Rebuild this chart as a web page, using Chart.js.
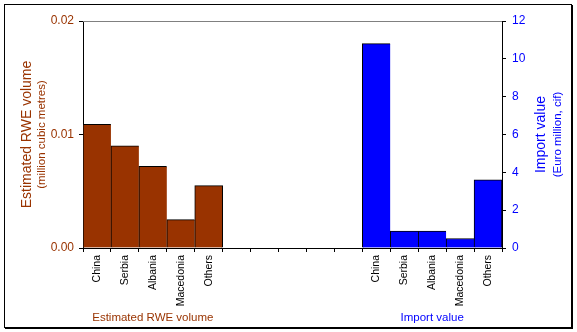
<!DOCTYPE html>
<html lang="en">
<head>
  <meta charset="UTF-8">
  <title>RWE volume and import value</title>
  <script src="https://cdn.jsdelivr.net/npm/chart.js"></script>
  <style>
    body {
      margin: 0;
      background: #fff;
    }
    canvas {
      display: block;
    }
  </style>
</head>
<body>
  <canvas id="myChart" width="577" height="332"></canvas>
  <script>
    // data
    const countries = ['China', 'Serbia', 'Albania', 'Macedonia', 'Others'];
    const rweVolume = [0.0109, 0.0090, 0.0072, 0.0025, 0.0055];   // million cubic metres
    const importValue = [10.8, 0.9, 0.9, 0.5, 3.6];               // Euro million, cif
    const gapSlots = 5;

    const brown = '#993300';
    const blue = '#0000ff';
    const font = '"Liberation Sans", Arial, sans-serif';

    const blanks = Array(gapSlots).fill('');
    const labels = countries.concat(blanks, countries);
    const emptyRun = Array(countries.length + gapSlots).fill(null);

    // thin shared borders between neighbouring bars
    function barBorder(ctx) {
      const d = ctx.dataset.data;
      const next = d[ctx.dataIndex + 1];
      return { top: 1, left: 1, bottom: 0, right: (next === null || next === undefined) ? 1 : 0 };
    }

    const decorations = {
      id: 'decorations',
      beforeDraw(chart) {
        const c = chart.ctx;
        c.save();
        c.fillStyle = '#fff';
        c.fillRect(0, 0, chart.width, chart.height);
        c.restore();
      },
      afterDraw(chart) {
        const c = chart.ctx;
        const area = chart.chartArea;
        const x = chart.scales.x;
        const midY = (area.top + area.bottom) / 2;
        c.save();

        // grey top edge of the plot
        c.strokeStyle = '#808080';
        c.lineWidth = 1;
        c.beginPath();
        c.moveTo(area.left, area.top + 0.5);
        c.lineTo(area.right, area.top + 0.5);
        c.stroke();

        // outer frame
        c.strokeStyle = '#000';
        c.strokeRect(4.5, 4.5, 567, 323);
        c.beginPath();
        c.moveTo(572.5, 5);
        c.lineTo(572.5, 329);
        c.moveTo(5, 328.5);
        c.lineTo(573, 328.5);
        c.stroke();

        c.textAlign = 'center';
        c.textBaseline = 'middle';

        function vText(text, px, py, size, color) {
          c.save();
          c.translate(px, py);
          c.rotate(-Math.PI / 2);
          c.font = size + 'px ' + font;
          c.fillStyle = color;
          c.fillText(text, 0, 0);
          c.restore();
        }
        vText('Estimated RWE volume', 27, midY, 14, brown);
        vText('(million cubic metres)', 42, midY, 11.5, brown);
        vText('Import value', 541, midY, 14, blue);
        vText('(Euro million, cif)', 558, midY, 11.5, blue);

        // group captions under the category labels
        const n = countries.length;
        c.font = '11.5px ' + font;
        c.fillStyle = brown;
        c.fillText('Estimated RWE volume',
          (x.getPixelForValue(0) + x.getPixelForValue(n - 1)) / 2, 318);
        c.fillStyle = blue;
        c.fillText('Import value',
          (x.getPixelForValue(n + gapSlots) + x.getPixelForValue(labels.length - 1)) / 2, 318);

        c.restore();
      }
    };

    const ctx = document.getElementById('myChart').getContext('2d');
    const myChart = new Chart(ctx, {
      type: 'bar',
      data: {
        labels: labels,
        datasets: [{
          label: 'Estimated RWE volume',
          data: rweVolume.concat(emptyRun),
          yAxisID: 'y',
          backgroundColor: brown,
          borderColor: '#000',
          borderWidth: barBorder,
          borderSkipped: false,
          grouped: false,
          categoryPercentage: 1,
          barPercentage: 1
        }, {
          label: 'Import value',
          data: emptyRun.concat(importValue),
          yAxisID: 'y1',
          backgroundColor: blue,
          borderColor: '#000',
          borderWidth: barBorder,
          borderSkipped: false,
          grouped: false,
          categoryPercentage: 1,
          barPercentage: 1
        }]
      },
      options: {
        responsive: false,
        animation: false,
        layout: { padding: { top: 21, right: 0, bottom: 0, left: 0 } },
        plugins: {
          legend: { display: false },
          tooltip: { enabled: false }
        },
        scales: {
          x: {
            offset: true,
            grid: {
              display: true,
              offset: true,
              drawOnChartArea: false,
              drawTicks: true,
              tickLength: 4,
              color: '#000'
            },
            border: { color: '#000' },
            ticks: {
              autoSkip: false,
              minRotation: 90,
              maxRotation: 90,
              padding: 3,
              color: '#000',
              font: { family: font, size: 10.5 }
            },
            afterFit(scale) { scale.height = 84; }
          },
          y: {
            position: 'left',
            min: 0,
            max: 0.02,
            grid: {
              drawOnChartArea: false,
              tickLength: 4,
              color: '#000'
            },
            border: { color: '#000' },
            ticks: {
              stepSize: 0.01,
              padding: 5,
              color: brown,
              font: { family: font, size: 12 },
              callback: v => v.toFixed(2)
            },
            afterFit(scale) { scale.width = 83; }
          },
          y1: {
            position: 'right',
            min: 0,
            max: 12,
            grid: {
              drawOnChartArea: false,
              tickLength: 4,
              color: '#000'
            },
            border: { color: '#000' },
            ticks: {
              stepSize: 2,
              padding: 6,
              color: blue,
              font: { family: font, size: 12 }
            },
            afterFit(scale) { scale.width = 75; }
          }
        }
      },
      plugins: [decorations]
    });
  </script>
</body>
</html>
